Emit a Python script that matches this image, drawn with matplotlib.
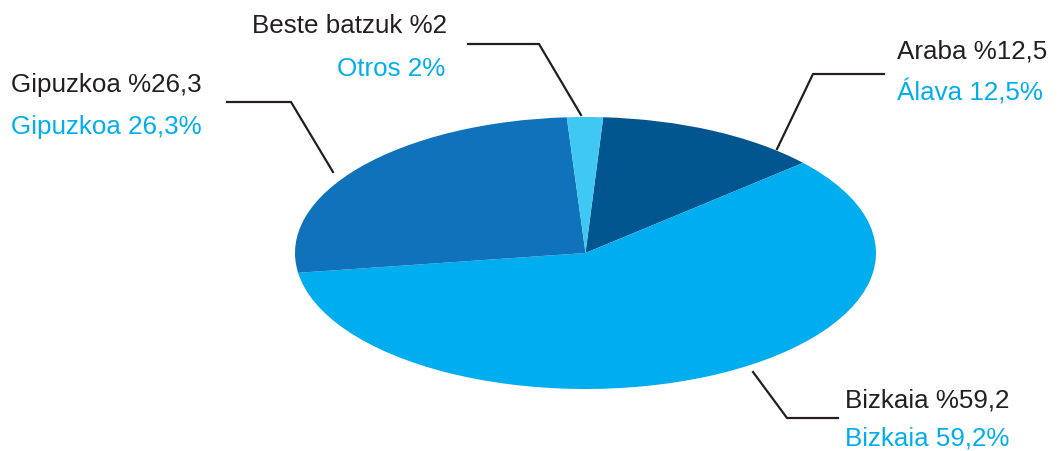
import matplotlib.pyplot as plt
from matplotlib.lines import Line2D

plt.rcParams['font.family'] = ['Liberation Sans', 'DejaVu Sans']

# data
regions = ['Araba', 'Bizkaia', 'Gipuzkoa', 'Beste batzuk']
shares = [12.5, 59.2, 26.3, 2.0]
eu_labels = ['Araba %12,5', 'Bizkaia %59,2', 'Gipuzkoa %26,3', 'Beste batzuk %2']
es_labels = ['Álava 12,5%', 'Bizkaia 59,2%', 'Gipuzkoa 26,3%', 'Otros 2%']
colors = ['#02568F', '#00AEEF', '#0F72BA', '#40C8F4']

W, H = 1058, 452
fig = plt.figure(figsize=(W / 100, H / 100), dpi=100)

# ellipse: pie drawn in a non-square axes
cx, cy, rx, ry = 585.5, 254, 290.5, 136
ax = fig.add_axes([(cx - rx) / W, (H - cy - ry) / H, 2 * rx / W, 2 * ry / H])
ax.pie(shares, colors=colors, startangle=86.5, counterclock=False,
       radius=1, wedgeprops=dict(linewidth=0))
ax.set_aspect('auto')
ax.set_xlim(-1, 1)
ax.set_ylim(-1, 1)
ax.axis('off')


def fx(px):
    return px / W


def fy(py):
    return 1 - py / H


# label positions in pixels (left, baseline of first line, baseline of second)
label_pos = [(897, 59, 101), (845, 408, 446), (11, 92, 134), (252, 33, 76)]
es_left = [897, 845, 11, 337]
leaders = [
    [(884, 75), (813, 75), (777, 150)],
    [(753, 373), (787, 419), (838, 419)],
    [(227, 103), (291, 103), (333, 173)],
    [(468, 45), (539, 45), (581, 116)],
]

for i in range(len(regions)):
    x0, b1, b2 = label_pos[i]
    fig.text(fx(x0), fy(b1), eu_labels[i], color='#231F20', fontsize=18.7,
             ha='left', va='baseline')
    fig.text(fx(es_left[i]), fy(b2), es_labels[i], color='#00AEEF', fontsize=18.7,
             ha='left', va='baseline')
    xs = [fx(p[0]) for p in leaders[i]]
    ys = [fy(p[1]) for p in leaders[i]]
    fig.add_artist(Line2D(xs, ys, color='#231F20', linewidth=1.6,
                          transform=fig.transFigure))

fig.savefig('out.png', dpi=100)
